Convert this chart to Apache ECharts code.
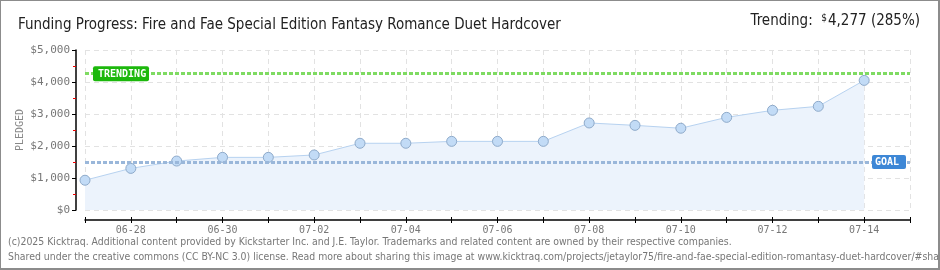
<!DOCTYPE html>
<html>
<head>
<meta charset="utf-8">
<script src="https://cdn.jsdelivr.net/npm/echarts@6/dist/echarts.min.js"></script>
<style>
html,body{margin:0;padding:0;background:#fff;}
#wrap{position:relative;width:940px;height:270px;box-sizing:border-box;border:1px solid #8c8c8c;border-right-width:2px;border-bottom-width:2px;overflow:hidden;}
#chart{position:absolute;left:-1px;top:-1px;width:940px;height:270px;}
</style>
</head>
<body>
<div id="wrap"><div id="chart"></div></div>
<script>
var categories = ['06-27','06-28','06-29','06-30','07-01','07-02','07-03','07-04','07-05','07-06','07-07','07-08','07-09','07-10','07-11','07-12','07-13','07-14','07-15'];
var pledged = [930,1300,1530,1645,1645,1720,2085,2085,2145,2145,2145,2720,2645,2555,2895,3115,3240,4050,null];
var goal = 1500;
var trending = 4277;
var yTicks = [0,1000,2000,3000,4000,5000];
var titleText = 'Funding Progress: Fire and Fae Special Edition Fantasy Romance Duet Hardcover';
var trendingText = 'Trending:';
var trendingAmount = '4,277 (285%)';
var footer1 = '(c)2025 Kicktraq. Additional content provided by Kickstarter Inc. and J.E. Taylor. Trademarks and related content are owned by their respective companies.';
var footer2 = 'Shared under the creative commons (CC BY-NC 3.0) license. Read more about sharing this image at www.kicktraq.com/projects/jetaylor75/fire-and-fae-special-edition-romantasy-duet-hardcover/#share';

var FONT = '"Liberation Sans Narrow","DejaVu Sans Condensed","Roboto Condensed",sans-serif';
var chart = echarts.init(document.getElementById('chart'), null, {renderer:'canvas'});
var option = {
  animation:false,
  backgroundColor:'#fff',
  title:{text:titleText,left:13,top:13,textStyle:{fontFamily:FONT,fontSize:15,fontWeight:'normal',color:'#222'}},
  grid:{left:85,right:30,top:50,bottom:60,containLabel:false},
  xAxis:[{
    type:'category',data:categories,boundaryGap:false,offset:10,
    axisLine:{onZero:false,lineStyle:{color:'#000',width:1.5}},
    axisTick:{show:true,length:3,lineStyle:{color:'#000'},interval:0},
    axisLabel:{color:'#777',fontSize:10,fontFamily:'"DejaVu Sans Mono",monospace',margin:5,
      interval:function(i){return i%2===1 && i<categories.length-1;}},
    splitLine:{show:true,interval:0,lineStyle:{color:'#e2e2e2',type:[5,4]}}
  },{
    type:'category',data:categories,boundaryGap:false,offset:10,position:'bottom',
    axisLine:{show:false,onZero:false},
    axisTick:{show:true,inside:true,length:3,lineStyle:{color:'#000'},interval:0},
    axisLabel:{show:false},splitLine:{show:false}
  }],
  yAxis:{
    type:'value',min:yTicks[0],max:yTicks[yTicks.length-1],interval:1000,offset:9,
    name:'PLEDGED',nameLocation:'middle',nameGap:51,nameMoveOverlap:false,
    nameTextStyle:{color:'#888',fontSize:10,fontFamily:'"DejaVu Sans Mono",monospace'},
    axisLine:{show:true,onZero:false,lineStyle:{color:'#000',width:1.5}},
    axisTick:{show:true,length:4,lineStyle:{color:'#000'}},
    minorTick:{show:true,splitNumber:2,length:3,lineStyle:{color:'#e00'}},
    axisLabel:{color:'#777',fontSize:11,fontFamily:'"DejaVu Sans Mono",monospace',margin:6,
      formatter:function(v){return '$'+v.toLocaleString('en-US');}},
    splitLine:{show:true,lineStyle:{color:'#e2e2e2',type:[5,4]}}
  },
  series:[{
    type:'line',data:pledged,symbol:'circle',symbolSize:10,showAllSymbol:true,
    lineStyle:{color:'#b7d2f0',width:1},
    itemStyle:{color:'#c2dbf6',borderColor:'#8eaaca',borderWidth:1},
    areaStyle:{color:'#ecf3fc',opacity:1},
    z:3,
    markLine:{
      silent:true,symbol:'none',
      label:{show:false},
      data:[
        {yAxis:trending,lineStyle:{color:'#7fdb62',width:3,type:[4,2]}},
        {yAxis:goal,lineStyle:{color:'#9ab7da',width:3,type:[4,2]}}
      ]
    }
  }]
};
chart.setOption(option);

// Labels for the reference lines, placed via the library's scales
var pT = chart.convertToPixel({xAxisIndex:0,yAxisIndex:0},[0,trending]);
var pG = chart.convertToPixel({xAxisIndex:0,yAxisIndex:0},[categories.length-1,goal]);
chart.setOption({graphic:[
  {type:'text',right:20,top:13,style:{
    rich:{a:{fontSize:15,fontFamily:FONT,fill:'#222'},d:{fontSize:10,fontFamily:FONT,fill:'#222',verticalAlign:'top',padding:[0,1,6,0]}},
    text:'{a|'+trendingText+'  }{d|$}{a|'+trendingAmount+'}'}},
  {type:'text',left:8,top:237,style:{text:footer1,fill:'#777',font:'10.4px '+FONT}},
  {type:'text',left:8,top:252,style:{text:footer2,fill:'#777',font:'10.4px '+FONT}},
  {type:'rect',shape:{x:pT[0]+8,y:pT[1]-7,width:56,height:15,r:2},style:{fill:'#1cb80c'},z:10},
  {type:'text',x:pT[0]+13,y:pT[1]+1,style:{text:'TRENDING',fill:'#fff',font:'bold 10px "DejaVu Sans Mono",monospace',verticalAlign:'middle'},z:11},
  {type:'rect',shape:{x:pG[0]-38,y:pG[1]-7,width:34,height:14,r:2},style:{fill:'#3d87d6'},z:10},
  {type:'text',x:pG[0]-35,y:pG[1]+0.5,style:{text:'GOAL',fill:'#fff',font:'bold 10px "DejaVu Sans Mono",monospace',verticalAlign:'middle'},z:11}
]});
</script>
</body>
</html>
